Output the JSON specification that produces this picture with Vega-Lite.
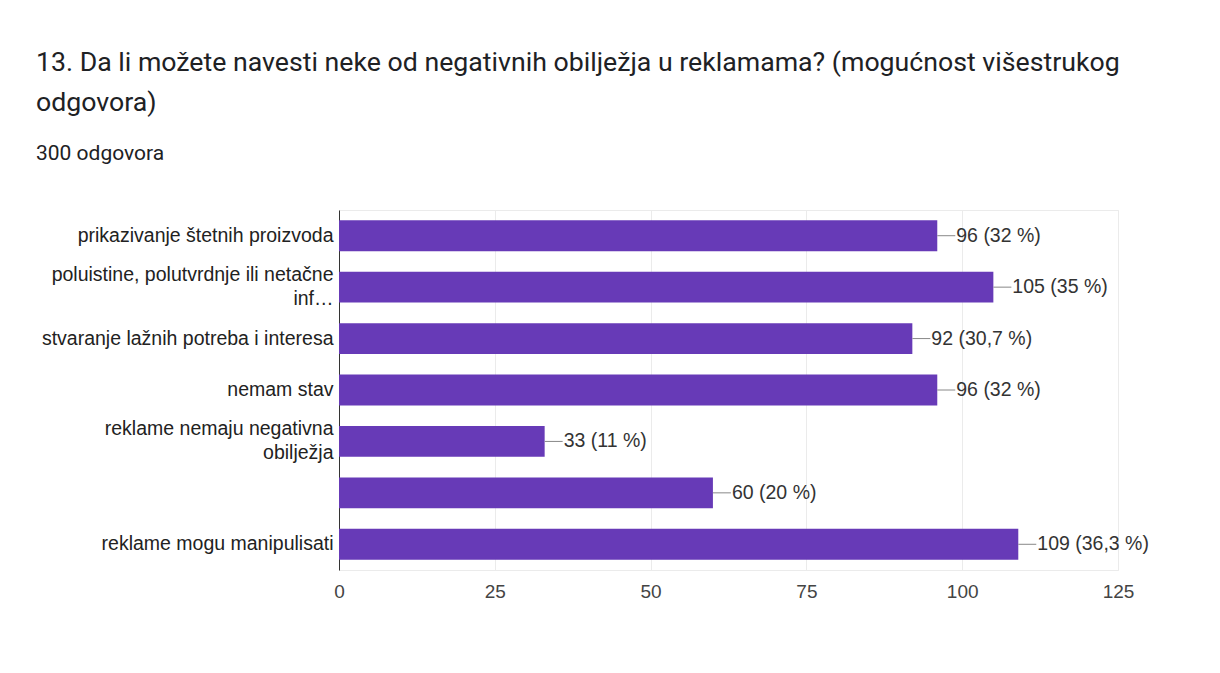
{
  "$schema": "https://vega.github.io/schema/vega-lite/v6.json",
  "width": 779,
  "height": 360,
  "autosize": {"type": "none"},
  "padding": {"left": 339, "top": 210, "right": 102, "bottom": 103},
  "background": "white",
  "title": {
    "text": ["13. Da li možete navesti neke od negativnih obilježja u reklamama? (mogućnost višestrukog", "odgovora)"],
    "subtitle": "300 odgovora",
    "anchor": "start",
    "frame": "group",
    "dx": -303,
    "offset": 46,
    "font": "Roboto",
    "fontSize": 26.7,
    "fontWeight": "normal",
    "color": "#202124",
    "lineHeight": 40,
    "subtitleFont": "Roboto",
    "subtitleFontSize": 21,
    "subtitleColor": "#202124",
    "subtitlePadding": 26
  },
  "data": {
    "values": [
      {"answer": "prikazivanje štetnih proizvoda", "count": 96, "label": "96 (32 %)"},
      {"answer": "poluistine, polutvrdnje ili netačne|inf…", "count": 105, "label": "105 (35 %)"},
      {"answer": "stvaranje lažnih potreba i interesa", "count": 92, "label": "92 (30,7 %)"},
      {"answer": "nemam stav", "count": 96, "label": "96 (32 %)"},
      {"answer": "reklame nemaju negativna|obilježja", "count": 33, "label": "33 (11 %)"},
      {"answer": " ", "count": 60, "label": "60 (20 %)"},
      {"answer": "reklame mogu manipulisati", "count": 109, "label": "109 (36,3 %)"}
    ]
  },
  "encoding": {
    "y": {
      "field": "answer",
      "type": "nominal",
      "sort": null,
      "scale": {"paddingInner": 0.4, "paddingOuter": 0.2},
      "axis": {
        "title": null,
        "domainColor": "#333333",
        "ticks": false,
        "grid": false,
        "labelExpr": "split(datum.value, '|')",
        "labelOffset": {"condition": {"test": "indexof(datum.value, '|') >= 0", "value": -12}, "value": 0},
        "labelFont": "Liberation Sans",
        "labelFontSize": 19.5,
        "labelColor": "#222222",
        "labelPadding": 6,
        "labelLineHeight": 24,
        "labelLimit": 400
      }
    },
    "x": {
      "field": "count",
      "type": "quantitative",
      "scale": {"domain": [0, 125], "nice": false},
      "axis": {
        "title": null,
        "values": [0, 25, 50, 75, 100, 125],
        "grid": true,
        "gridColor": "#ebebeb",
        "domain": false,
        "ticks": false,
        "labelFlush": false,
        "labelFont": "Liberation Sans",
        "labelFontSize": 19,
        "labelColor": "#444444",
        "labelPadding": 12
      }
    }
  },
  "layer": [
    {"mark": {"type": "bar", "color": "#673ab7"}},
    {
      "mark": {"type": "rule", "color": "#888888", "strokeWidth": 1, "x2Offset": 18},
      "encoding": {"x2": {"field": "count"}}
    },
    {
      "mark": {"type": "text", "align": "left", "baseline": "middle", "dx": 19, "font": "Liberation Sans", "fontSize": 19.5, "color": "#333333"},
      "encoding": {"text": {"field": "label"}}
    }
  ],
  "config": {
    "view": {"stroke": "#ebebeb"}
  }
}
